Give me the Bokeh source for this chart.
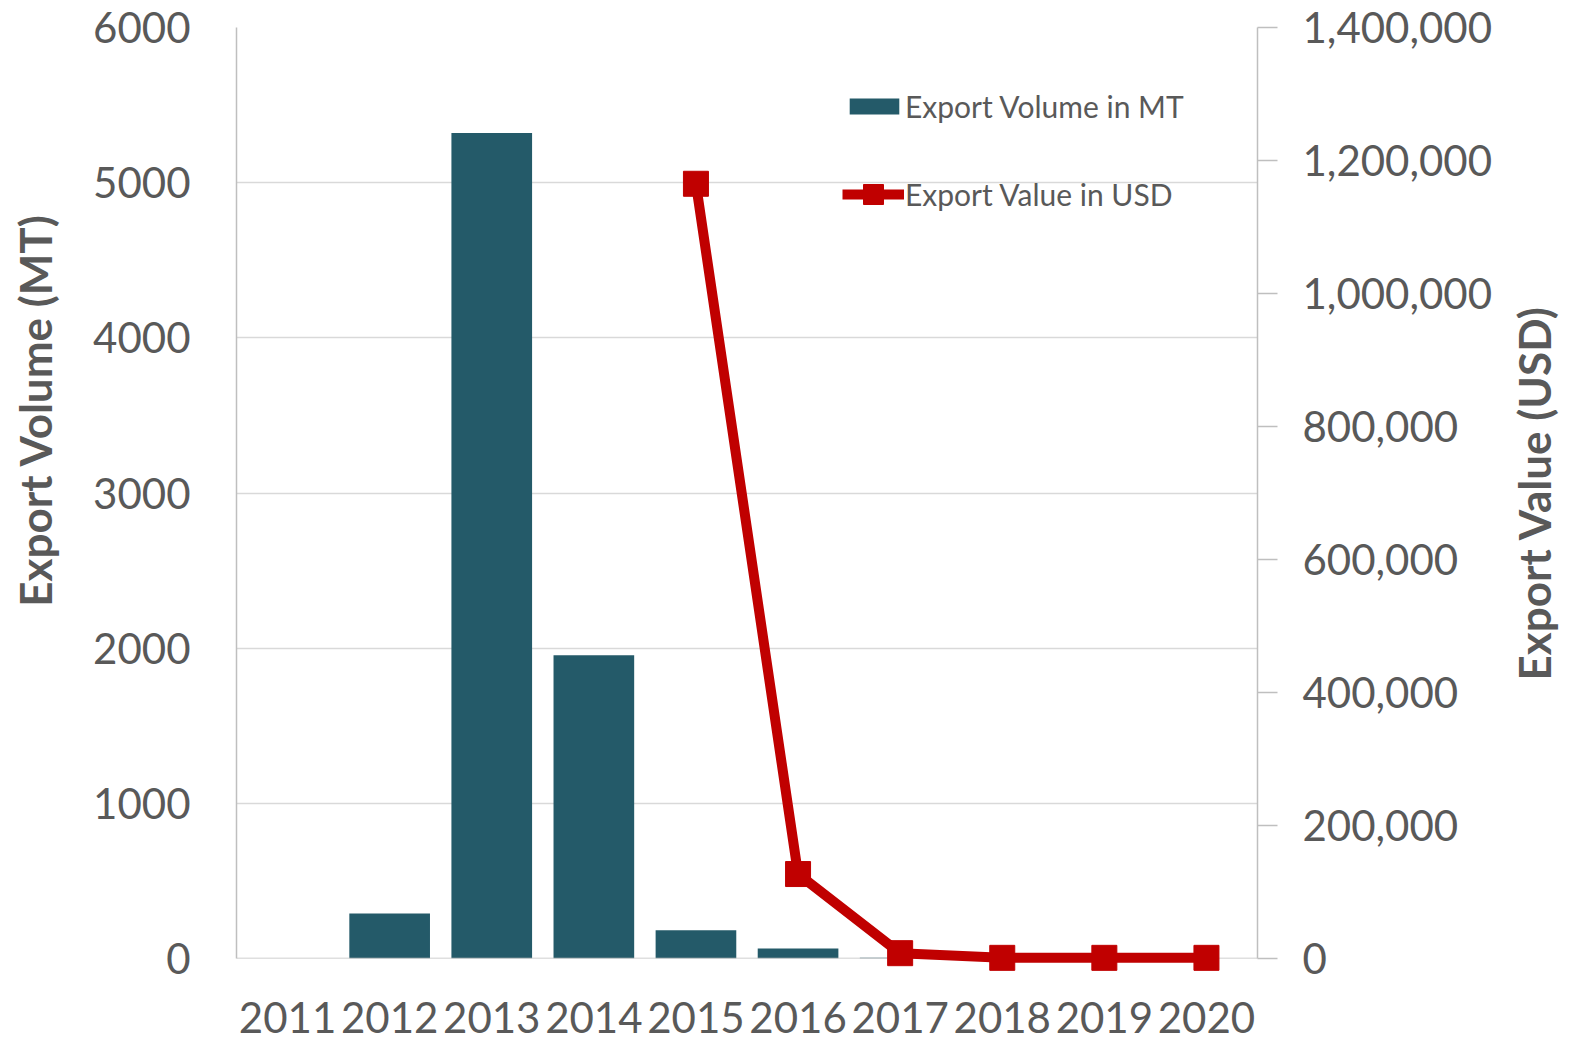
import math
from bokeh.plotting import figure
from bokeh.models import (Range1d, LinearAxis, FixedTicker, NumeralTickFormatter,
                          Legend, LegendItem, ColumnDataSource, Span)
from bokeh.core.properties import value
from bokeh.embed import file_html
from bokeh.resources import INLINE

# ---- data ----
years = ["2011", "2012", "2013", "2014", "2015", "2016", "2017", "2018", "2019", "2020"]
volume_mt = [0, 290, 5320, 1955, 182, 65, 5, 0, 0, 0]
value_years = ["2015", "2016", "2017", "2018", "2019", "2020"]
value_usd = [1165000, 127000, 8000, 1000, 1000, 1000]
left_ticks = [0, 1000, 2000, 3000, 4000, 5000, 6000]
right_ticks = [0, 200000, 400000, 600000, 800000, 1000000, 1200000, 1400000]
left_max = 6000
right_max = 1400000
left_title = "Export Volume (MT)"
right_title = "Export Value (USD)"

TEXT = "#595959"
FONT = "Lato"

p = figure(x_range=years, y_range=Range1d(0, left_max), width=1575, height=1040,
           output_backend="svg", toolbar_location=None,
           min_border_left=236, min_border_right=318, min_border_top=27, min_border_bottom=82)
p.outline_line_color = None
p.extra_y_ranges = {"usd": Range1d(0, right_max)}

bar_src = ColumnDataSource(dict(year=years, vol=volume_mt))
bars = p.vbar(x="year", top="vol", width=0.79, source=bar_src,
              fill_color="#245A69", line_color=None)

p.xgrid.visible = False
p.ygrid.grid_line_color = "#D9D9D9"
p.ygrid.grid_line_width = 1.3
p.add_layout(Span(location=0, dimension="width", line_color="#BFBFBF", line_width=1.5))

line_src = ColumnDataSource(dict(year=value_years, usd=value_usd))
ln = p.line(x="year", y="usd", source=line_src, y_range_name="usd",
            line_color="#C00000", line_width=10, level="overlay")
pts = p.scatter(x="year", y="usd", source=line_src, y_range_name="usd",
                marker="square", size=25, fill_color="#C00000", line_color="#C00000",
                level="overlay")

# left axis
la = p.left[0]
la.ticker = FixedTicker(ticks=left_ticks)
la.major_label_text_font = FONT
la.major_label_text_font_size = "42px"
la.major_label_text_color = TEXT
la.major_label_standoff = 40
la.major_tick_line_color = None
la.minor_tick_line_color = None
la.axis_line_color = "#BFBFBF"
la.axis_line_width = 1.5

# bottom axis: hidden, category labels drawn as text below the zero line
p.below[0].visible = False
p.text(x="year", y=0, text="year", source=bar_src, level="overlay",
       y_offset=59, text_align="center", text_baseline="alphabetic",
       text_font=value(FONT), text_font_size="42px", text_color=TEXT)

# right axis
ra = LinearAxis(y_range_name="usd", ticker=FixedTicker(ticks=right_ticks),
                formatter=NumeralTickFormatter(format="0,0"))
ra.major_label_text_font = FONT
ra.major_label_text_font_size = "42px"
ra.major_label_text_color = TEXT
ra.major_label_standoff = 25
ra.major_tick_out = 20
ra.major_tick_in = 0
ra.major_tick_line_color = "#BFBFBF"
ra.major_tick_line_width = 1.5
ra.minor_tick_line_color = None
ra.axis_line_color = "#BFBFBF"
ra.axis_line_width = 1.5
p.add_layout(ra, "right")

# axis titles (vertical, reading upwards)
title_style = dict(level="overlay", angle=math.pi / 2, text_baseline="middle",
                   text_font=value(FONT), text_font_style="bold",
                   text_font_size="44px", text_color=TEXT)
p.text(x=[years[0]], y=[left_max], text=[left_title], x_offset=-253, y_offset=186,
       text_align="right", **title_style)
p.text(x=[years[-1]], y=[right_max / 2], text=[right_title], y_range_name="usd",
       x_offset=328, text_align="center", **title_style)

common = dict(padding=0, margin=0, border_line_color=None, background_fill_alpha=0,
              label_text_font=FONT, label_text_font_size="30px", label_text_color=TEXT,
              spacing=0)
leg1 = Legend(items=[LegendItem(label="Export Volume in MT", renderers=[bars])],
              location=(607, 834), glyph_width=62, glyph_height=20, label_height=20,
              label_standoff=0, **common)
leg2 = Legend(items=[LegendItem(label="Export Value in USD", renderers=[ln, pts])],
              location=(606, 739), glyph_width=62, glyph_height=50, label_height=50,
              label_standoff=1, **common)
p.add_layout(leg1)
p.add_layout(leg2)

open("out.html", "w").write(file_html(p, INLINE))
